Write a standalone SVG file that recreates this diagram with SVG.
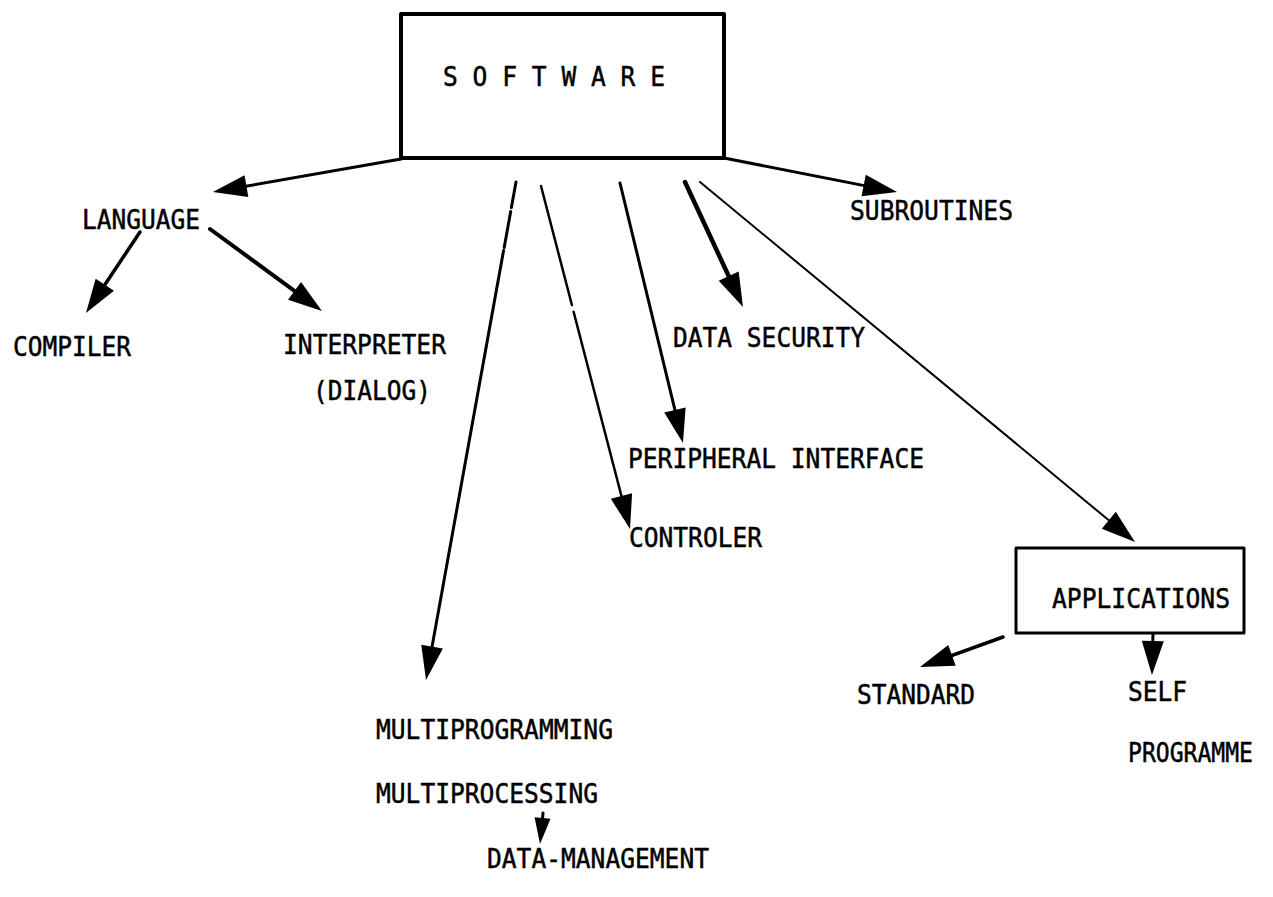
<svg xmlns="http://www.w3.org/2000/svg" width="1273" height="897" viewBox="0 0 1273 897">
  <style>
    .lbl { font-family: "DejaVu Sans Mono", "Liberation Mono", monospace; font-size: 27px; fill: #000; stroke: #000; stroke-width: 0.5px; }
    .box { fill: #fff; stroke: #000; stroke-linejoin: round; }
    .edge { fill: none; stroke: #000; stroke-linecap: round; marker-end: url(#ah); }
    .edge.small { marker-end: url(#ahs); }
  </style>
  <defs>
    <!-- filled arrowhead; tip sits 10px beyond the line end -->
    <marker id="ah" markerUnits="userSpaceOnUse" markerWidth="40" markerHeight="26" refX="24" refY="11" orient="auto" overflow="visible">
      <path d="M0,0 L34,11 L0,22 Z" fill="#000"/>
    </marker>
    <marker id="ahs" markerUnits="userSpaceOnUse" markerWidth="30" markerHeight="20" refX="16" refY="8" orient="auto" overflow="visible">
      <path d="M0,0 L26,8 L0,16 Z" fill="#000"/>
    </marker>
  </defs>

  <rect width="1273" height="897" fill="#fff"/>

  <!-- connectors -->
  <g id="connectors">
    <path class="edge" stroke-width="3" d="M401,159 L222.8,190.3"/>
    <path class="edge" stroke-width="3" d="M724,158 L887.2,190.1"/>
    <path class="edge" stroke-width="3.5" d="M140,232 L91.5,304.7"/>
    <path class="edge" stroke-width="4" d="M210,229 L313.9,305.1"/>
    <path class="edge" stroke-width="3" d="M516,182 L511.4,207.6 M510.7,211.5 L504.2,247.4 M503.6,250.4 L427.8,670.2"/>
    <path class="edge" stroke-width="2.5" d="M541,186 L571.9,305 M573.6,311.8 L627.5,519.3"/>
    <path class="edge" stroke-width="3" d="M620,183 L680.6,433.3"/>
    <path class="edge" stroke-width="4.5" d="M685,182 L738.8,297.9"/>
    <path class="edge" stroke-width="2" d="M700,182 L1127.3,535.6"/>
    <path class="edge" stroke-width="3.5" d="M1003,637 L929.4,663.6"/>
    <path class="edge" stroke-width="3" d="M1153,633 L1152.2,665"/>
    <path class="edge small" stroke-width="3" d="M543,813 L541,834"/>
  </g>

  <g id="software">
    <rect class="box" x="401" y="14" width="323" height="144" stroke-width="4"/>
    <text class="lbl" x="443" y="86" textLength="222" lengthAdjust="spacingAndGlyphs">S O F T W A R E</text>
  </g>

  <g id="language">
    <text class="lbl" x="82" y="229" textLength="118" lengthAdjust="spacingAndGlyphs">LANGUAGE</text>
  </g>

  <g id="compiler">
    <text class="lbl" x="13" y="356" textLength="118" lengthAdjust="spacingAndGlyphs">COMPILER</text>
  </g>

  <g id="interpreter">
    <text class="lbl" x="283" y="354" textLength="163" lengthAdjust="spacingAndGlyphs">INTERPRETER</text>
    <text class="lbl" x="313" y="400" textLength="118" lengthAdjust="spacingAndGlyphs">(DIALOG)</text>
  </g>

  <g id="subroutines">
    <text class="lbl" x="850" y="220" textLength="163" lengthAdjust="spacingAndGlyphs">SUBROUTINES</text>
  </g>

  <g id="data-security">
    <text class="lbl" x="673" y="347" textLength="192" lengthAdjust="spacingAndGlyphs">DATA SECURITY</text>
  </g>

  <g id="peripheral-interface">
    <text class="lbl" x="628" y="468" textLength="296" lengthAdjust="spacingAndGlyphs">PERIPHERAL INTERFACE</text>
  </g>

  <g id="controler">
    <text class="lbl" x="629" y="547" textLength="133" lengthAdjust="spacingAndGlyphs">CONTROLER</text>
  </g>

  <g id="applications">
    <rect class="box" x="1016" y="548" width="228" height="85" stroke-width="3"/>
    <text class="lbl" x="1052" y="608" textLength="178" lengthAdjust="spacingAndGlyphs">APPLICATIONS</text>
  </g>

  <g id="standard">
    <text class="lbl" x="857" y="704" textLength="118" lengthAdjust="spacingAndGlyphs">STANDARD</text>
  </g>

  <g id="self-programme">
    <text class="lbl" x="1128" y="701" textLength="59" lengthAdjust="spacingAndGlyphs">SELF</text>
    <text class="lbl" x="1128" y="762" textLength="125" lengthAdjust="spacingAndGlyphs">PROGRAMME</text>
  </g>

  <g id="multi">
    <text class="lbl" x="376" y="739" textLength="237" lengthAdjust="spacingAndGlyphs">MULTIPROGRAMMING</text>
    <text class="lbl" x="376" y="803" textLength="222" lengthAdjust="spacingAndGlyphs">MULTIPROCESSING</text>
  </g>

  <g id="data-management">
    <text class="lbl" x="487" y="868" textLength="222" lengthAdjust="spacingAndGlyphs">DATA-MANAGEMENT</text>
  </g>
</svg>
